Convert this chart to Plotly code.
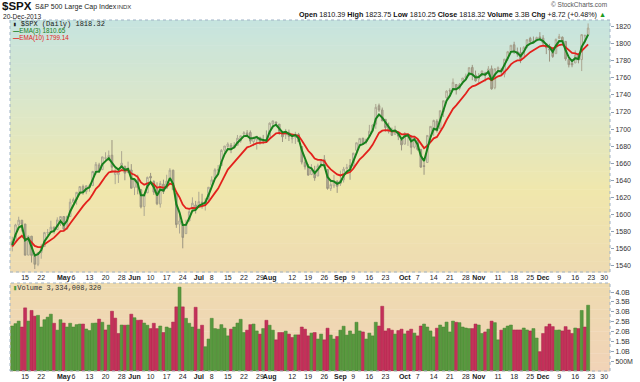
import plotly.graph_objects as go

# ---------------- data ----------------
trading_days = {
    "2013-04": [9, 10, 11, 12, 15, 16, 17, 18, 19, 22, 23, 24, 25, 26, 29, 30],
    "2013-05": [1, 2, 3, 6, 7, 8, 9, 10, 13, 14, 15, 16, 17, 20, 21, 22, 23, 24, 28, 29, 30, 31],
    "2013-06": [3, 4, 5, 6, 7, 10, 11, 12, 13, 14, 17, 18, 19, 20, 21, 24, 25, 26, 27, 28],
    "2013-07": [1, 2, 3, 5, 8, 9, 10, 11, 12, 15, 16, 17, 18, 19, 22, 23, 24, 25, 26, 29, 30, 31],
    "2013-08": [1, 2, 5, 6, 7, 8, 9, 12, 13, 14, 15, 16, 19, 20, 21, 22, 23, 26, 27, 28, 29, 30],
    "2013-09": [3, 4, 5, 6, 9, 10, 11, 12, 13, 16, 17, 18, 19, 20, 23, 24, 25, 26, 27, 30],
    "2013-10": [1, 2, 3, 4, 7, 8, 9, 10, 11, 14, 15, 16, 17, 18, 21, 22, 23, 24, 25, 28, 29, 30, 31],
    "2013-11": [1, 4, 5, 6, 7, 8, 11, 12, 13, 14, 15, 18, 19, 20, 21, 22, 25, 26, 27, 29],
    "2013-12": [2, 3, 4, 5, 6, 9, 10, 11, 12, 13, 16, 17, 18, 19, 20],
}
future_days = ["2013-12-23", "2013-12-24", "2013-12-26", "2013-12-27", "2013-12-30", "2013-12-31"]
prior_close = 1563.07

open_ = [
    1563.11, 1568.61, 1587.73, 1593.30, 1588.84, 1552.36, 1574.57, 1552.03, 1541.61, 1555.25,
    1562.50, 1578.78, 1578.93, 1585.16, 1582.34, 1593.58, 1597.55, 1582.77, 1597.60, 1614.40,
    1617.55, 1625.95, 1632.69, 1626.69, 1632.10, 1633.75, 1649.13, 1658.07, 1652.45, 1665.71,
    1666.20, 1669.39, 1646.67, 1646.67, 1652.63, 1656.57, 1649.14, 1652.13, 1631.71, 1640.73,
    1629.05, 1609.29, 1625.27, 1644.67, 1638.64, 1629.94, 1612.15, 1635.52, 1630.64, 1639.77,
    1651.83, 1624.62, 1588.62, 1588.77, 1577.52, 1592.27, 1606.44, 1611.12, 1609.78, 1614.29,
    1611.48, 1618.65, 1634.20, 1642.89, 1651.56, 1657.41, 1675.26, 1679.59, 1681.05, 1677.91,
    1681.05, 1686.15, 1694.41, 1695.53, 1696.06, 1685.21, 1687.31, 1690.32, 1687.92, 1687.76,
    1689.42, 1706.10, 1708.01, 1705.79, 1695.30, 1693.35, 1696.10, 1688.37, 1690.65, 1693.88,
    1679.61, 1661.22, 1655.25, 1646.81, 1650.66, 1645.03, 1659.92, 1664.29, 1652.54, 1630.25,
    1633.50, 1638.89, 1635.95, 1640.72, 1653.28, 1657.44, 1656.85, 1675.11, 1681.04, 1689.21,
    1685.04, 1691.70, 1697.73, 1705.74, 1727.34, 1722.44, 1711.44, 1702.60, 1698.02, 1694.05,
    1695.52, 1687.26, 1682.41, 1691.90, 1692.35, 1678.79, 1687.15, 1676.22, 1656.99, 1660.88,
    1691.09, 1699.86, 1709.17, 1700.49, 1720.17, 1736.72, 1745.20, 1746.48, 1752.27, 1747.48,
    1756.01, 1759.42, 1762.93, 1772.27, 1763.24, 1758.70, 1763.40, 1765.67, 1765.00, 1770.74,
    1748.37, 1769.96, 1769.51, 1764.37, 1782.75, 1790.66, 1798.82, 1790.79, 1789.59, 1783.52,
    1796.19, 1806.33, 1802.87, 1803.48, 1808.01, 1806.55, 1800.10, 1794.08, 1792.82, 1788.36,
    1806.21, 1807.60, 1802.76, 1781.71, 1776.98, 1777.48, 1786.47, 1781.46, 1809.00, 1810.39]

high = [
    1573.89, 1589.07, 1597.35, 1593.30, 1588.84, 1575.35, 1574.57, 1554.38, 1555.89, 1565.55,
    1579.58, 1583.00, 1592.64, 1585.78, 1596.65, 1597.57, 1597.55, 1598.60, 1618.46, 1619.77,
    1626.03, 1632.78, 1635.01, 1633.70, 1636.00, 1651.10, 1661.49, 1660.51, 1667.47, 1672.84,
    1674.93, 1687.18, 1654.19, 1649.78, 1674.21, 1656.57, 1661.91, 1658.99, 1640.42, 1646.53,
    1629.31, 1622.56, 1644.40, 1648.69, 1640.13, 1637.71, 1639.25, 1640.80, 1646.50, 1654.19,
    1652.45, 1624.62, 1599.19, 1588.77, 1593.79, 1606.83, 1620.07, 1615.94, 1626.61, 1624.26,
    1618.97, 1632.07, 1644.68, 1654.18, 1657.92, 1676.63, 1680.19, 1684.51, 1683.73, 1684.75,
    1693.12, 1692.09, 1697.61, 1698.78, 1698.38, 1690.94, 1691.85, 1690.92, 1693.19, 1698.43,
    1707.85, 1709.67, 1709.24, 1705.79, 1695.30, 1700.18, 1699.42, 1691.49, 1696.81, 1695.52,
    1679.61, 1663.60, 1659.18, 1658.92, 1656.99, 1659.55, 1664.85, 1669.51, 1652.54, 1641.18,
    1646.41, 1640.08, 1651.35, 1655.72, 1659.17, 1664.83, 1672.40, 1684.09, 1689.13, 1689.97,
    1688.73, 1704.95, 1705.52, 1729.44, 1729.86, 1725.23, 1711.44, 1707.63, 1701.71, 1703.85,
    1695.52, 1687.26, 1696.55, 1693.87, 1692.35, 1691.94, 1687.15, 1676.79, 1662.47, 1692.56,
    1703.44, 1711.03, 1711.57, 1721.76, 1733.45, 1745.31, 1747.79, 1759.33, 1752.27, 1753.94,
    1759.82, 1764.99, 1772.09, 1775.22, 1768.53, 1765.67, 1768.78, 1767.03, 1773.74, 1774.54,
    1770.78, 1773.44, 1771.78, 1782.00, 1791.53, 1798.22, 1802.33, 1795.51, 1795.73, 1797.16,
    1804.84, 1808.10, 1808.42, 1808.27, 1813.55, 1810.02, 1800.10, 1799.80, 1792.82, 1806.04,
    1811.52, 1808.52, 1802.97, 1782.99, 1781.31, 1792.22, 1786.77, 1811.08, 1810.88, 1823.75]

low = [
    1556.74, 1568.61, 1586.17, 1579.97, 1552.28, 1552.36, 1543.69, 1536.03, 1539.40, 1548.19,
    1562.50, 1575.80, 1578.93, 1577.56, 1582.34, 1586.50, 1581.28, 1582.77, 1597.60, 1614.21,
    1611.46, 1622.70, 1623.09, 1623.71, 1626.74, 1633.75, 1646.68, 1648.60, 1652.45, 1663.52,
    1662.67, 1648.86, 1635.53, 1636.88, 1652.63, 1640.05, 1648.61, 1630.74, 1622.72, 1623.62,
    1607.09, 1598.23, 1625.27, 1639.26, 1622.92, 1610.92, 1608.07, 1623.96, 1630.34, 1639.77,
    1628.91, 1584.32, 1577.70, 1560.33, 1577.09, 1592.27, 1606.44, 1601.06, 1609.78, 1606.77,
    1604.57, 1614.71, 1634.20, 1642.89, 1647.66, 1657.41, 1672.33, 1677.89, 1671.84, 1677.91,
    1681.05, 1684.08, 1690.67, 1691.08, 1682.57, 1680.07, 1676.03, 1681.86, 1682.42, 1684.94,
    1689.42, 1700.68, 1703.55, 1693.29, 1684.91, 1688.38, 1686.02, 1683.35, 1682.62, 1684.83,
    1658.59, 1652.61, 1645.92, 1646.08, 1639.43, 1645.03, 1654.81, 1656.02, 1629.05, 1627.47,
    1630.88, 1625.27, 1633.41, 1637.41, 1653.07, 1640.62, 1656.85, 1675.11, 1678.70, 1681.96,
    1682.22, 1691.70, 1697.73, 1700.35, 1720.20, 1708.89, 1697.10, 1694.90, 1691.88, 1693.11,
    1687.11, 1674.99, 1682.07, 1680.34, 1670.36, 1677.33, 1674.70, 1655.03, 1646.47, 1660.88,
    1688.52, 1692.13, 1695.93, 1700.49, 1714.12, 1735.74, 1740.67, 1746.48, 1740.50, 1745.50,
    1752.45, 1757.67, 1762.93, 1757.24, 1755.72, 1752.70, 1761.56, 1755.76, 1764.40, 1746.20,
    1746.61, 1767.85, 1762.29, 1760.64, 1780.22, 1790.66, 1788.00, 1784.72, 1777.23, 1783.52,
    1794.70, 1800.58, 1800.77, 1802.77, 1803.98, 1798.60, 1787.85, 1779.09, 1783.38, 1788.36,
    1806.21, 1801.75, 1780.09, 1772.28, 1772.44, 1777.48, 1777.05, 1767.99, 1801.35, 1810.25]

close = [
    1568.61, 1587.73, 1593.37, 1588.85, 1552.36, 1574.57, 1552.01, 1541.61, 1555.25, 1562.50,
    1578.78, 1578.79, 1585.16, 1582.24, 1593.61, 1597.57, 1582.70, 1597.59, 1614.42, 1617.50,
    1625.96, 1632.69, 1626.67, 1633.70, 1633.77, 1650.34, 1658.78, 1650.47, 1667.47, 1666.29,
    1669.16, 1655.35, 1650.51, 1649.60, 1660.06, 1648.36, 1654.41, 1630.74, 1640.42, 1631.38,
    1608.90, 1622.56, 1643.38, 1642.81, 1626.13, 1612.52, 1636.36, 1626.73, 1639.04, 1651.81,
    1628.93, 1588.19, 1592.43, 1573.09, 1588.03, 1603.26, 1613.20, 1606.28, 1614.96, 1614.08,
    1615.41, 1631.89, 1640.46, 1652.32, 1652.62, 1675.02, 1680.19, 1682.50, 1676.26, 1680.91,
    1689.37, 1692.09, 1695.53, 1692.39, 1685.94, 1690.25, 1691.65, 1685.33, 1685.96, 1685.73,
    1706.87, 1709.67, 1707.14, 1697.37, 1690.91, 1697.48, 1691.42, 1689.47, 1694.16, 1685.39,
    1661.32, 1655.83, 1646.06, 1652.35, 1642.80, 1656.96, 1663.50, 1656.78, 1630.48, 1634.96,
    1638.17, 1632.97, 1639.77, 1653.08, 1655.08, 1655.17, 1671.71, 1683.99, 1689.13, 1683.42,
    1687.99, 1697.60, 1704.76, 1725.52, 1722.34, 1709.91, 1701.84, 1697.42, 1692.77, 1698.67,
    1691.75, 1681.55, 1695.00, 1693.87, 1678.66, 1690.50, 1676.12, 1655.45, 1656.40, 1692.56,
    1703.20, 1710.14, 1698.06, 1721.54, 1733.15, 1744.50, 1744.66, 1754.67, 1746.38, 1752.07,
    1759.77, 1762.11, 1771.95, 1763.31, 1756.54, 1761.64, 1767.93, 1762.97, 1770.49, 1747.15,
    1770.61, 1771.89, 1767.69, 1782.00, 1790.62, 1798.18, 1791.53, 1787.87, 1781.37, 1795.85,
    1804.76, 1802.48, 1802.75, 1807.23, 1805.81, 1800.90, 1795.15, 1792.81, 1785.03, 1805.09,
    1808.37, 1802.62, 1782.22, 1775.50, 1775.32, 1786.54, 1781.00, 1810.65, 1809.60, 1818.32]

volume_b = [
    2.28, 2.40, 2.53, 2.23, 3.20, 2.53, 3.07, 2.78, 2.82, 2.23,
    2.60, 2.73, 2.88, 2.42, 2.07, 2.60, 2.43, 2.23, 2.42, 2.23,
    2.35, 2.38, 2.38, 2.13, 2.05, 2.42, 2.43, 2.63, 2.47, 2.08,
    2.33, 3.03, 2.68, 1.90, 2.33, 2.32, 2.33, 2.88, 2.70, 2.57,
    2.58, 2.43, 2.32, 2.15, 2.42, 2.15, 2.28, 1.95, 2.23, 2.17,
    2.48, 3.25, 4.25, 3.25, 2.67, 2.42, 2.23, 3.23, 2.12, 2.32,
    1.23, 1.62, 2.67, 2.15, 2.12, 2.35, 2.17, 1.78, 2.12, 2.23,
    2.43, 2.62, 1.95, 2.07, 2.35, 2.38, 2.03, 1.87, 2.15, 2.57,
    2.32, 2.07, 1.58, 1.95, 1.95, 2.02, 1.87, 1.70, 1.83, 1.83,
    2.23, 2.12, 1.78, 1.92, 1.95, 1.62, 1.87, 1.58, 2.17, 1.82,
    1.62, 1.75, 2.07, 2.27, 1.82, 2.03, 1.87, 2.47, 2.03, 1.98,
    1.62, 1.92, 1.78, 2.47, 2.28, 3.28, 2.03, 2.15, 2.07, 1.87,
    2.05, 2.12, 1.88, 2.03, 2.12, 1.92, 1.78, 2.28, 2.38, 2.23,
    2.03, 1.73, 2.17, 2.33, 2.23, 2.48, 1.98, 2.53, 2.47, 2.45,
    2.23, 2.18, 2.15, 2.15, 2.38, 2.33, 1.90, 1.98, 2.12, 2.53,
    2.45, 1.58, 2.07, 2.17, 2.28, 2.33, 2.08, 2.08, 2.08, 2.18,
    2.08, 2.03, 2.15, 1.67, 0.98, 1.90, 2.25, 2.38, 2.25, 2.07,
    2.08, 2.03, 2.25, 2.08, 1.90, 2.18, 2.15, 3.07, 2.23, 3.334]

ema3 = [
    1564.3, 1576.0, 1584.7, 1586.8, 1569.6, 1572.1, 1562.1, 1551.9, 1553.6, 1558.0,
    1568.4, 1573.6, 1579.4, 1580.8, 1587.2, 1592.4, 1587.6, 1592.6, 1603.5, 1610.5,
    1618.2, 1625.4, 1626.0, 1629.9, 1631.8, 1641.1, 1649.9, 1650.2, 1658.8, 1662.5,
    1665.8, 1660.6, 1655.6, 1652.6, 1656.3, 1652.3, 1653.4, 1642.1, 1641.3, 1636.3,
    1622.6, 1622.6, 1633.0, 1637.9, 1632.0, 1622.3, 1629.3, 1628.0, 1633.5, 1642.7,
    1635.8, 1612.0, 1602.2, 1587.6, 1587.8, 1595.5, 1604.4, 1605.3, 1610.1, 1612.1,
    1613.8, 1622.8, 1631.6, 1642.0, 1647.3, 1661.2, 1670.7, 1676.6, 1676.4, 1678.7,
    1684.0, 1688.0, 1691.8, 1692.1, 1689.0, 1689.6, 1690.6, 1688.0, 1687.0, 1686.4,
    1696.6, 1703.1, 1705.1, 1701.2, 1696.1, 1696.8, 1694.1, 1691.8, 1693.0, 1689.2,
    1675.3, 1665.6, 1655.8, 1654.1, 1648.5, 1652.7, 1658.1, 1657.4, 1643.9, 1639.4,
    1638.8, 1635.9, 1637.8, 1645.4, 1650.2, 1652.7, 1662.2, 1673.1, 1681.1, 1682.3,
    1685.1, 1691.4, 1698.1, 1711.8, 1717.1, 1713.5, 1707.7, 1702.6, 1697.7, 1698.2,
    1695.0, 1688.3, 1691.7, 1692.8, 1685.7, 1688.1, 1682.1, 1668.8, 1662.6, 1677.6,
    1690.4, 1700.3, 1699.2, 1710.4, 1721.8, 1733.2, 1738.9, 1746.8, 1746.6, 1749.3,
    1754.5, 1758.3, 1765.1, 1764.2, 1760.4, 1761.0, 1764.5, 1763.7, 1767.1, 1757.1,
    1763.9, 1767.9, 1767.8, 1774.9, 1782.8, 1790.5, 1791.0, 1789.4, 1785.4, 1790.6,
    1797.7, 1800.1, 1801.4, 1804.3, 1805.1, 1803.0, 1799.1, 1796.0, 1790.5, 1797.8,
    1803.1, 1802.9, 1792.6, 1784.1, 1779.7, 1783.1, 1782.1, 1796.4, 1803.0, 1810.7]

ema10 = [
    1562.5, 1567.1, 1571.9, 1575.0, 1570.9, 1571.6, 1568.0, 1563.2, 1561.8, 1561.9,
    1565.0, 1567.5, 1570.7, 1572.8, 1576.6, 1580.4, 1580.8, 1583.9, 1589.4, 1594.5,
    1600.2, 1606.1, 1609.8, 1614.2, 1617.8, 1623.7, 1630.1, 1633.8, 1639.9, 1644.7,
    1649.2, 1650.3, 1650.3, 1650.2, 1652.0, 1651.3, 1651.9, 1648.0, 1646.6, 1643.8,
    1637.5, 1634.8, 1636.4, 1637.6, 1635.5, 1631.3, 1632.2, 1631.2, 1632.6, 1636.1,
    1634.8, 1626.3, 1620.1, 1611.6, 1607.3, 1606.6, 1607.8, 1607.5, 1608.9, 1609.8,
    1610.8, 1614.6, 1619.3, 1625.3, 1630.3, 1638.4, 1646.0, 1652.6, 1656.9, 1661.3,
    1666.4, 1671.1, 1675.5, 1678.6, 1679.9, 1681.8, 1683.6, 1683.9, 1684.3, 1684.6,
    1688.6, 1692.4, 1695.1, 1695.5, 1694.7, 1695.2, 1694.5, 1693.6, 1693.7, 1692.2,
    1686.6, 1681.0, 1674.6, 1670.6, 1665.5, 1664.0, 1663.9, 1662.6, 1656.8, 1652.8,
    1650.1, 1647.0, 1645.7, 1647.0, 1648.5, 1649.7, 1653.7, 1659.2, 1664.6, 1668.0,
    1671.6, 1676.3, 1681.5, 1689.5, 1695.5, 1698.1, 1698.8, 1698.5, 1697.5, 1697.7,
    1696.6, 1693.9, 1694.1, 1694.1, 1691.3, 1691.2, 1688.4, 1682.4, 1677.7, 1680.4,
    1684.6, 1689.2, 1690.8, 1696.4, 1703.1, 1710.6, 1716.8, 1723.7, 1727.8, 1732.2,
    1737.2, 1741.7, 1747.2, 1750.1, 1751.3, 1753.2, 1755.9, 1757.2, 1759.6, 1757.3,
    1759.7, 1761.9, 1762.9, 1766.4, 1770.8, 1775.8, 1778.7, 1780.4, 1780.6, 1783.4,
    1787.3, 1790.1, 1792.4, 1795.1, 1797.0, 1797.7, 1797.2, 1796.4, 1794.3, 1796.3,
    1798.5, 1799.2, 1796.1, 1792.4, 1789.3, 1788.8, 1787.4, 1791.6, 1794.9, 1799.2]

tick_dates = ["2013-04-15", "2013-04-22", "2013-05-01", "2013-05-06", "2013-05-13", "2013-05-20",
              "2013-05-28", "2013-06-03", "2013-06-10", "2013-06-17", "2013-06-24", "2013-07-01",
              "2013-07-08", "2013-07-15", "2013-07-22", "2013-07-29", "2013-08-01", "2013-08-12",
              "2013-08-19", "2013-08-26", "2013-09-03", "2013-09-09", "2013-09-16", "2013-09-23",
              "2013-10-01", "2013-10-07", "2013-10-14", "2013-10-21", "2013-10-28", "2013-11-01",
              "2013-11-11", "2013-11-18", "2013-11-25", "2013-12-02", "2013-12-09", "2013-12-16",
              "2013-12-23", "2013-12-30"]
tick_labels = ["15", "22", "May", "6", "13", "20", "28", "Jun", "10", "17", "24", "Jul", "8", "15",
               "22", "29", "Aug", "12", "19", "26", "Sep", "9", "16", "23", "Oct", "7", "14", "21",
               "28", "Nov", "11", "18", "25", "Dec", "9", "16", "23", "30"]
price_ticks = [1540, 1560, 1580, 1600, 1620, 1640, 1660, 1680, 1700, 1720, 1740, 1760, 1780, 1800, 1820]
vol_tick_vals = [0.5, 1.0, 1.5, 2.0, 2.5, 3.0, 3.5, 4.0]
vol_tick_text = ["500M", "1.0B", "1.5B", "2.0B", "2.5B", "3.0B", "3.5B", "4.0B"]

# ---------------- build ----------------
dates = [f"{m}-{d:02d}" for m, ds in trading_days.items() for d in ds]
all_days = dates + future_days
pos = {d: i for i, d in enumerate(all_days)}
xi = [pos[d] for d in dates]
tick_pos = [pos[d] for d in tick_dates]
tick_text = [f"<b>{t}</b>" if t.isalpha() else t for t in tick_labels]

UP, DOWN = "#58993f", "#c4305a"
UP_LINE, DOWN_LINE = "#45822f", "#a82249"
prev = [prior_close] + close[:-1]
vol_colors = [UP if c >= p else DOWN for c, p in zip(close, prev)]
vol_lines = [UP_LINE if c >= p else DOWN_LINE for c, p in zip(close, prev)]

W, H = 640, 382
ML, MR, MT, MB = 10, 30, 20, 11
PW, PH = W - ML - MR, H - MT - MB


def px(x, y):
    return (x - ML) / PW, (H - MB - y) / PH


main_bottom = px(0, 272)[1]
vol_top = px(0, 283)[1]

FONT = "Liberation Sans, Arial, sans-serif"
MONO = "Liberation Mono, DejaVu Sans Mono, monospace"

fig = go.Figure()

fig.add_trace(go.Candlestick(
    x=xi, open=open_, high=high, low=low, close=close,
    increasing=dict(line=dict(color="#aca792", width=1), fillcolor="rgba(250,248,236,0.35)"),
    decreasing=dict(line=dict(color="#9b9581", width=1), fillcolor="#b2ad97"),
    whiskerwidth=0, hoverinfo="skip", xaxis="x", yaxis="y"))
fig.add_trace(go.Scatter(x=xi, y=ema10, mode="lines", line=dict(color="#e3211c", width=1.8),
                         hoverinfo="skip", xaxis="x", yaxis="y"))
fig.add_trace(go.Scatter(x=xi, y=ema3, mode="lines", line=dict(color="#18801c", width=2),
                         hoverinfo="skip", xaxis="x", yaxis="y"))
fig.add_trace(go.Bar(x=xi, y=volume_b, marker=dict(color=vol_colors, line=dict(color=vol_lines, width=0.5)),
                     hoverinfo="skip", xaxis="x2", yaxis="y2"))


def lerp(stops, t):
    for (t0, c0), (t1, c1) in zip(stops, stops[1:]):
        if t0 <= t <= t1:
            f = (t - t0) / (t1 - t0)
            return "rgb(%d,%d,%d)" % tuple(round(a + (b - a) * f) for a, b in zip(c0, c1))
    return "rgb(%d,%d,%d)" % stops[-1][1]


main_stops = [(0.0, (198, 228, 223)), (0.38, (222, 231, 198)), (0.68, (240, 231, 172)), (1.0, (238, 219, 178))]
vol_stops = [(0.0, (238, 219, 176)), (1.0, (241, 211, 183))]
shapes = []
N = 70
for k in range(N):
    t = (k + 0.5) / N
    shapes.append(dict(type="rect", xref="x domain", yref="y domain", x0=0, x1=1,
                       y0=1 - (k + 1) / N - 0.002, y1=1 - k / N, layer="below",
                       line=dict(width=0), fillcolor=lerp(main_stops, t)))
for k in range(20):
    t = (k + 0.5) / 20
    shapes.append(dict(type="rect", xref="x2 domain", yref="y2 domain", x0=0, x1=1,
                       y0=1 - (k + 1) / 20 - 0.005, y1=1 - k / 20, layer="below",
                       line=dict(width=0), fillcolor=lerp(vol_stops, t)))
for xr, yr in (("x domain", "y domain"), ("x2 domain", "y2 domain")):
    shapes.append(dict(type="rect", xref=xr, yref=yr, x0=0, x1=1, y0=0, y1=1, layer="above",
                       line=dict(color="#9fb2c6", width=1, dash="dot"), fillcolor="rgba(0,0,0,0)"))

ann = []


def add_text(x, y, text, size, color="#222", family=FONT, anchor="left"):
    xp, yp = px(x, y)
    ann.append(dict(x=xp, y=yp, xref="paper", yref="paper", text=text, showarrow=False,
                    xanchor=anchor, yanchor="middle", font=dict(size=size, color=color, family=family)))


add_text(0, 6.5, "<b>$SPX</b>", 11.5, "#111")
add_text(33, 7.5, "S&amp;P 500 Large Cap Index", 7, "#222")
add_text(115, 7.5, "INDX", 6, "#333")
add_text(1, 16.8, "20-Dec-2013", 6.6, "#222")
add_text(609, 5, "© StockCharts.com", 6.5, "#555", anchor="right")
add_text(608, 15,
         "<b>Open</b> 1810.39 <b>High</b> 1823.75 <b>Low</b> 1810.25 <b>Close</b> 1818.32 "
         "<b>Volume</b> 3.3B <b>Chg</b> +8.72 (+0.48%) <span style='color:#1d9a1d'>▲</span>",
         7.2, "#111", anchor="right")
add_text(11, 24, "<span style='font-size:6px'>▮</span> $SPX (Daily) %.2f" % close[-1], 7, "#1a1a1a", MONO)
add_text(11, 30.5, "<b>—</b>EMA(3) 1810.65", 6.3, "#18801c")
add_text(11, 37.5, "<b>—</b>EMA(10) 1799.14", 6.3, "#e3211c")
add_text(11, 287.5, "<span style='color:#4f9a3a'>▮</span>Volume 3,334,008,320", 7, "#333", MONO)

axis_common = dict(type="linear", range=[-0.7, 185.8], tickmode="array", tickvals=tick_pos,
                   ticktext=tick_text, tickangle=0, showgrid=False, zeroline=False, showline=False,
                   ticks="", tickfont=dict(size=7, color="#222", family=FONT), automargin=False)

fig.update_layout(
    width=W, height=H, margin=dict(l=ML, r=MR, t=MT, b=MB),
    paper_bgcolor="white", plot_bgcolor="white", showlegend=False, bargap=0.06,
    font=dict(family=FONT),
    xaxis=dict(**axis_common, domain=[0, 1], anchor="y", rangeslider=dict(visible=False)),
    xaxis2=dict(**axis_common, domain=[0, 1], anchor="y2", matches="x"),
    yaxis=dict(domain=[main_bottom, 1], range=[1532.6, 1827.8], side="right", tickmode="array",
               tickvals=price_ticks, ticks="outside", ticklen=3, tickcolor="#8fa2b6",
               showgrid=False, zeroline=False, showline=False, automargin=False,
               tickfont=dict(size=7, color="#333", family=FONT)),
    yaxis2=dict(domain=[0, vol_top], range=[0, 4.46], side="right", tickmode="array",
                tickvals=vol_tick_vals, ticktext=vol_tick_text, ticks="outside", ticklen=3,
                tickcolor="#8fa2b6", showgrid=False, zeroline=False, showline=False, automargin=False,
                tickfont=dict(size=7, color="#333", family=FONT)),
    shapes=shapes, annotations=ann,
)

fig.write_html("out.html", config={"displayModeBar": False, "staticPlot": True},
               post_script="document.body.style.margin='0px';document.body.style.overflow='hidden';")
